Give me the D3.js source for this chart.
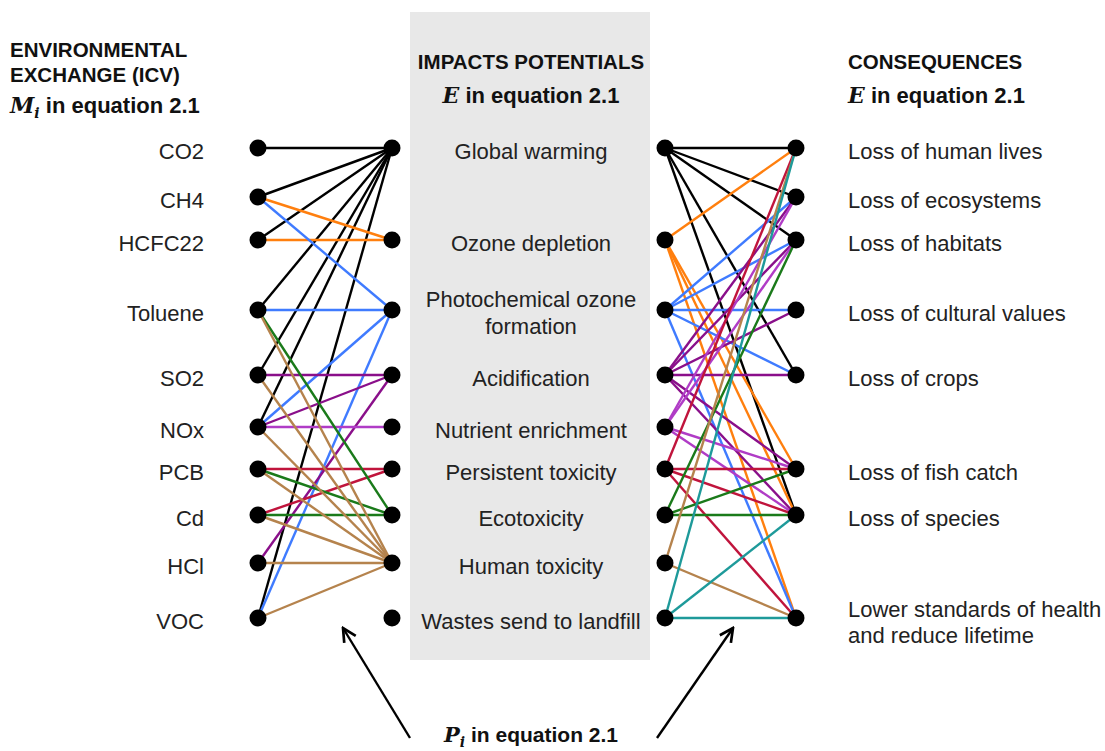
<!DOCTYPE html>
<html><head><meta charset="utf-8">
<script src="https://cdn.jsdelivr.net/npm/d3@7"></script>
<style>body{margin:0;background:#fff}svg{display:block}</style>
</head><body><svg id="c" width="1105" height="751"></svg>
<script>
// ---- data ----
const exchanges = ["CO2","CH4","HCFC22","Toluene","SO2","NOx","PCB","Cd","HCl","VOC"];
const impacts = ["Global warming","Ozone depletion","Photochemical ozone formation","Acidification","Nutrient enrichment","Persistent toxicity","Ecotoxicity","Human toxicity","Wastes send to landfill"];
const consequences = ["Loss of human lives","Loss of ecosystems","Loss of habitats","Loss of cultural values","Loss of crops","Loss of fish catch","Loss of species","Lower standards of health and reduce lifetime"];
// exchange -> impact links
const leftLinks = [
  ["CO2","Global warming"],["CH4","Global warming"],["HCFC22","Global warming"],["Toluene","Global warming"],
  ["SO2","Global warming"],["NOx","Global warming"],["VOC","Global warming"],
  ["CH4","Ozone depletion"],["HCFC22","Ozone depletion"],
  ["CH4","Photochemical ozone formation"],["Toluene","Photochemical ozone formation"],["NOx","Photochemical ozone formation"],["VOC","Photochemical ozone formation"],
  ["SO2","Acidification"],["NOx","Acidification"],["HCl","Acidification"],
  ["NOx","Nutrient enrichment"],
  ["PCB","Persistent toxicity"],["Cd","Persistent toxicity"],
  ["Toluene","Ecotoxicity"],["PCB","Ecotoxicity"],["Cd","Ecotoxicity"],
  ["Toluene","Human toxicity"],["SO2","Human toxicity"],["NOx","Human toxicity"],["PCB","Human toxicity"],
  ["Cd","Human toxicity"],["HCl","Human toxicity"],["VOC","Human toxicity"]
];
// impact -> consequence links
const rightLinks = [
  ["Global warming","Loss of human lives"],["Global warming","Loss of ecosystems"],["Global warming","Loss of habitats"],
  ["Global warming","Loss of crops"],["Global warming","Loss of species"],
  ["Ozone depletion","Loss of human lives"],["Ozone depletion","Loss of fish catch"],["Ozone depletion","Loss of species"],
  ["Ozone depletion","Lower standards of health and reduce lifetime"],
  ["Photochemical ozone formation","Loss of ecosystems"],["Photochemical ozone formation","Loss of habitats"],
  ["Photochemical ozone formation","Loss of cultural values"],["Photochemical ozone formation","Loss of crops"],
  ["Photochemical ozone formation","Lower standards of health and reduce lifetime"],
  ["Acidification","Loss of ecosystems"],["Acidification","Loss of habitats"],["Acidification","Loss of cultural values"],
  ["Acidification","Loss of crops"],["Acidification","Loss of fish catch"],["Acidification","Loss of species"],
  ["Nutrient enrichment","Loss of ecosystems"],["Nutrient enrichment","Loss of habitats"],
  ["Nutrient enrichment","Loss of fish catch"],["Nutrient enrichment","Loss of species"],
  ["Persistent toxicity","Loss of human lives"],["Persistent toxicity","Loss of fish catch"],
  ["Persistent toxicity","Loss of species"],["Persistent toxicity","Lower standards of health and reduce lifetime"],
  ["Ecotoxicity","Loss of habitats"],["Ecotoxicity","Loss of fish catch"],["Ecotoxicity","Loss of species"],
  ["Human toxicity","Loss of human lives"],["Human toxicity","Lower standards of health and reduce lifetime"],
  ["Wastes send to landfill","Loss of human lives"],["Wastes send to landfill","Loss of species"],
  ["Wastes send to landfill","Lower standards of health and reduce lifetime"]
];
const impactColors = ["#000000","#ff7f0e","#3f7bff","#8a0f8a","#b03cc6","#c0143c","#1a7a1a","#b5834d","#1e9a9a"];

// ---- layout ----
const svg = d3.select("#c");
const F = "'Liberation Sans', Arial, sans-serif";
const SERIF = "'DejaVu Serif', 'Liberation Serif', serif";
const rowY = d3.scaleOrdinal().domain(impacts).range([148,240,310,375,427,469,515,563,618]);
const exY = d3.scaleOrdinal().domain(exchanges).range([148,197,240,310,375,427,469,515,563,618]);
const conY = d3.scaleOrdinal().domain(consequences).range([148,197,240,310,375,469,515,618]);
const color = d3.scaleOrdinal().domain(impacts).range(impactColors);
const xPos = {ex:258, impL:392, impR:665, con:796};

svg.append("rect").attr("x",410).attr("y",12).attr("width",240).attr("height",648).attr("fill","#e8e8e8");

// headers
function header(x, y, anchor){
  return svg.append("text").attr("x",x).attr("y",y).attr("text-anchor",anchor)
    .attr("font-family",F).attr("font-weight","bold").attr("font-size",20.5).attr("fill","#111");
}
header(10,57,"start").text("ENVIRONMENTAL");
header(10,82,"start").text("EXCHANGE (ICV)");
function eqLine(x,y,sym,sub,anchor,fs){
  const t = svg.append("text").attr("x",x).attr("y",y).attr("text-anchor",anchor)
    .attr("font-family",F).attr("font-weight","bold").attr("font-size",fs||22).attr("fill","#111");
  t.append("tspan").attr("font-family",SERIF).attr("font-style","italic").text(sym);
  if(sub) t.append("tspan").attr("font-family",SERIF).attr("font-style","italic").attr("font-size",14).attr("dy",5).text(sub);
  t.append("tspan").attr("dy",sub?-5:0).text(" in equation 2.1");
}
eqLine(10,113,"M","i","start");
header(531,69,"middle").text("IMPACTS POTENTIALS");
eqLine(531,103,"E",null,"middle");
header(848,69,"start").text("CONSEQUENCES");
eqLine(848,103,"E",null,"start");

// links
const g = svg.append("g").attr("fill","none").attr("stroke-width",2.4);
g.selectAll("line.l").data(leftLinks).join("line").attr("class","l")
  .attr("x1",xPos.ex).attr("y1",d=>exY(d[0])).attr("x2",xPos.impL).attr("y2",d=>rowY(d[1]))
  .attr("stroke",d=>color(d[1]));
g.selectAll("line.r").data(rightLinks).join("line").attr("class","r")
  .attr("x1",xPos.impR).attr("y1",d=>rowY(d[0])).attr("x2",xPos.con).attr("y2",d=>conY(d[1]))
  .attr("stroke",d=>color(d[0]));

// nodes
const R = 8.5;
svg.selectAll("circle.ex").data(exchanges).join("circle").attr("cx",xPos.ex).attr("cy",d=>exY(d)).attr("r",R).attr("fill","#000");
svg.selectAll("circle.il").data(impacts).join("circle").attr("cx",xPos.impL).attr("cy",d=>rowY(d)).attr("r",R).attr("fill","#000");
svg.selectAll("circle.ir").data(impacts).join("circle").attr("cx",xPos.impR).attr("cy",d=>rowY(d)).attr("r",R).attr("fill","#000");
svg.selectAll("circle.co").data(consequences).join("circle").attr("cx",xPos.con).attr("cy",d=>conY(d)).attr("r",R).attr("fill","#000");

// labels
function txt(x,y,s,anchor){
  return svg.append("text").attr("x",x).attr("y",y).attr("text-anchor",anchor)
    .attr("font-family",F).attr("font-size",22).attr("fill","#222").text(s);
}
exchanges.forEach(e=>txt(204,exY(e)+11,e,"end"));
const split = {"Photochemical ozone formation":["Photochemical ozone","formation"],
               "Lower standards of health and reduce lifetime":["Lower standards of health","and reduce lifetime"]};
impacts.forEach(s=>{
  if(split[s]){ txt(531,rowY(s)-3,split[s][0],"middle"); txt(531,rowY(s)+24,split[s][1],"middle"); }
  else txt(531,rowY(s)+11,s,"middle");
});
consequences.forEach(s=>{
  if(split[s]){ txt(848,conY(s)-1,split[s][0],"start"); txt(848,conY(s)+25,split[s][1],"start"); }
  else txt(848,conY(s)+11,s,"start");
});

// arrows
const defs = svg.append("defs");
defs.append("marker").attr("id","ah").attr("viewBox","0 0 10 10").attr("refX",9).attr("refY",5)
  .attr("markerWidth",7).attr("markerHeight",7).attr("orient","auto")
  .append("path").attr("d","M1,1 L9,5 L1,9").attr("fill","none").attr("stroke","#000").attr("stroke-width",1.6);
svg.append("line").attr("x1",410).attr("y1",738).attr("x2",343).attr("y2",628).attr("stroke","#000").attr("stroke-width",2.4).attr("marker-end","url(#ah)");
svg.append("line").attr("x1",657).attr("y1",738).attr("x2",733).attr("y2",628).attr("stroke","#000").attr("stroke-width",2.4).attr("marker-end","url(#ah)");
eqLine(531,742,"P","i","middle",21);
</script></body></html>
